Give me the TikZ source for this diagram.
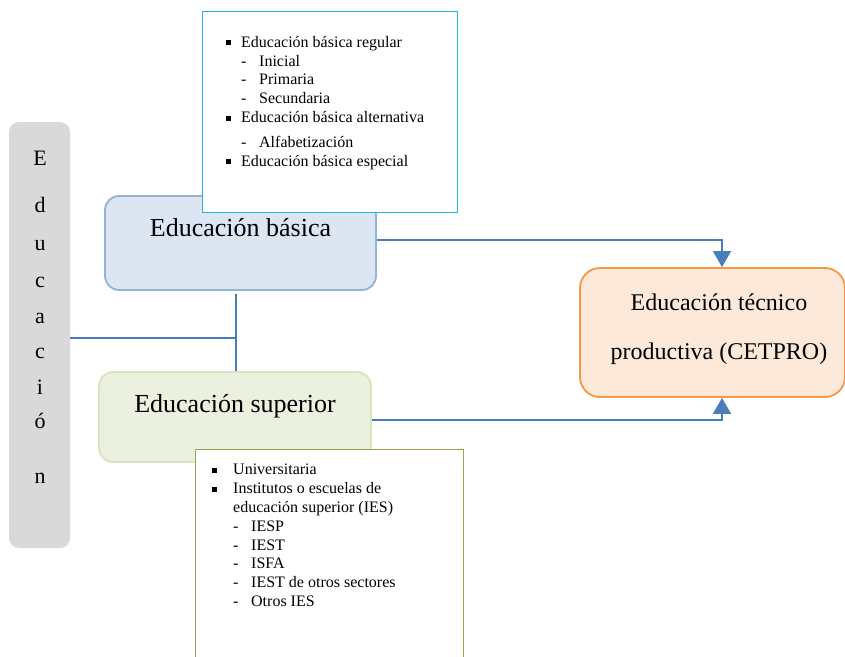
\documentclass[tikz,border=0pt]{standalone}
\usepackage{fontspec}
\setmainfont{Liberation Serif}
\usetikzlibrary{positioning,arrows.meta}
\tikzset{>=stealth}

\definecolor{grisCaja}{HTML}{D9D9D9}
\definecolor{azulFondo}{HTML}{DCE6F2}
\definecolor{azulBorde}{HTML}{95B3D7}
\definecolor{celeste}{HTML}{1FB4EC}
\definecolor{verdeFondo}{HTML}{EBF1DE}
\definecolor{verdeBorde}{HTML}{D7E4BD}
\definecolor{verdeOscuro}{HTML}{8AA84A}
\definecolor{naranjaFondo}{HTML}{FDE9D9}
\definecolor{naranjaBorde}{HTML}{F79646}
\definecolor{azulLinea}{HTML}{4A7EBB}

\newcommand{\bul}[1][15pt]{\makebox[#1][l]{\rule[2pt]{5pt}{5pt}}}
\newcommand{\gui}[1][15pt]{\hspace*{#1}\makebox[18pt][l]{-}}

\begin{document}
\begin{tikzpicture}[x=1pt,y=-1pt,
  caja/.style={rounded corners=14pt,line width=1.8pt,inner sep=0pt},
  titulo/.style={font=\fontsize{26}{30}\selectfont,inner sep=0pt},
  lista/.style={draw,line width=1.2pt,fill=white,inner sep=0pt},
  texto/.style={font=\fontsize{16}{18.8}\selectfont,align=left,inner sep=0pt,anchor=north west},
  enlace/.style={draw=azulLinea,line width=1.6pt},
  flecha/.style={enlace,-{Triangle[width=18pt,length=16pt]}}]
\useasboundingbox (0,0) rectangle (845,656);

% columna gris
\node[fill=grisCaja,rounded corners=10pt,minimum width=61pt,minimum height=426pt] (educacion) at (39.5,335) {};
\foreach \letra/\yy [count=\i] in {E/158,d/205,u/246,c/282,a/318,c/353,i/387,ó/421,n/478}
  \node[font=\fontsize{22}{26}\selectfont,inner sep=0pt] (letra\i) at (40,\yy) {\letra};

% cajas principales
\node[caja,fill=azulFondo,draw=azulBorde,minimum width=271pt,minimum height=94pt] (basica) at (240.5,243) {};
\node[titulo] (tbasica) at ([yshift=-32pt]basica.north) {Educación básica};
\node[caja,fill=verdeFondo,draw=verdeBorde,minimum width=272pt,minimum height=90pt] (superior) at (235,417) {};
\node[titulo] (tsuperior) at ([yshift=-35pt]superior.north) {Educación superior};
\node[caja,rounded corners=20pt,fill=naranjaFondo,draw=naranjaBorde,minimum width=265pt,minimum height=129pt] (cetpro) at (712.5,332.5) {};
\node[font=\fontsize{24}{26}\selectfont,align=center,inner sep=0pt] (tcetpro) at (719,329) {Educación técnico\\[23pt]productiva (CETPRO)};

% listas
\node[lista,draw=celeste,minimum width=255pt,minimum height=201pt,anchor=north west] (lbasica) at (202,11) {};
\node[texto] (ibasica) at (226,36) {\bul Educación básica regular\\
\gui Inicial\\
\gui Primaria\\
\gui Secundaria\\
\bul Educación básica alternativa\\[6pt]
\gui Alfabetización\\
\bul Educación básica especial};
\node[lista,draw=verdeOscuro,minimum width=268pt,minimum height=215pt,anchor=north west] (lsuperior) at (195,449) {};
\node[texto] (isuperior) at (212,464) {\bul[21pt]Universitaria\\
\bul[21pt]Institutos o escuelas de\\
\hspace*{21pt}educación superior (IES)\\
\gui[21pt]IESP\\
\gui[21pt]IEST\\
\gui[21pt]ISFA\\
\gui[21pt]IEST de otros sectores\\
\gui[21pt]Otros IES};

% conectores
\coordinate (union) at ([xshift=-4.5pt]basica.south |- 0,338);
\draw[enlace] ([xshift=-4.5pt,yshift=-3pt]basica.south) -- (union |- superior.north);
\draw[enlace] (educacion.east |- union) -- (union);
\draw[flecha] ([yshift=3pt]basica.east) -| ([xshift=9.5pt]cetpro.north);
\draw[flecha] ([yshift=-3pt]superior.east) -| ([xshift=9.5pt]cetpro.south);
\end{tikzpicture}
\end{document}
